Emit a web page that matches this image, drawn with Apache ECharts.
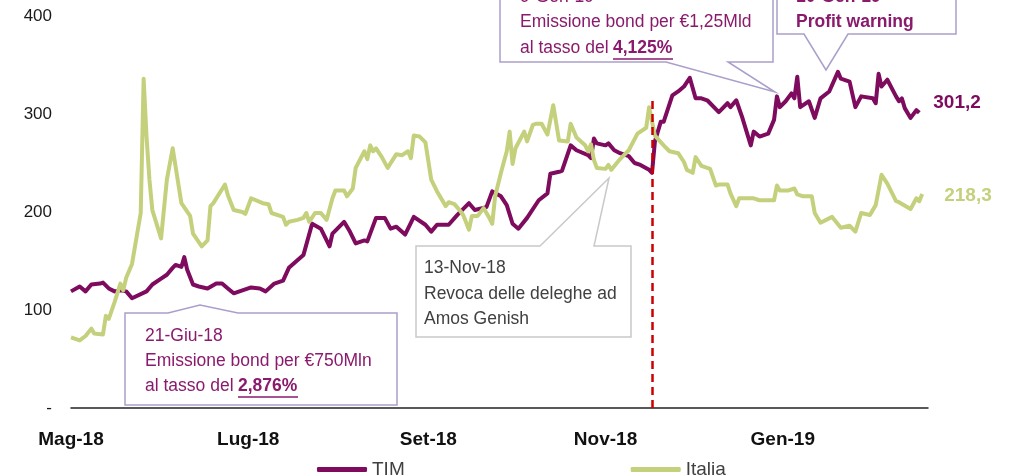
<!DOCTYPE html>
<html>
<head>
<meta charset="utf-8">
<script src="https://cdn.jsdelivr.net/npm/echarts@6/dist/echarts.min.js"></script>
<style>
  html, body { margin: 0; padding: 0; background: #fff; }
  #main { width: 1020px; height: 476px; }
</style>
</head>
<body>
<div id="main"></div>
<script>
// giorni dal 1 maggio 2018 -> etichette asse x
var labelDays = [0, 61, 123, 184, 245];
var monthLabels = ['Mag-18', 'Lug-18', 'Set-18', 'Nov-18', 'Gen-19'];
var yTicks = [0, 100, 200, 300, 400];
var eventDay = 200;   // linea rossa tratteggiata
var eventTop = 316;

// [giorno, valore]
var timData = [[0,119],[3,124],[5,119],[7,126],[10,127],[11,128],[13,122],[15,119],[17,120],[19,119],[21,112],[26,119],[28,126],[31,132],[33,136],[35,143],[36,146],[38,144],[39,154],[40,141],[42,126],[44,124],[47,122],[50,127],[52,127],[54,122],[56,117],[59,120],[62,123],[65,122],[67,119],[70,127],[73,130],[75,143],[80,156],[83,188],[86,183],[88,171],[89,165],[90,178],[94,190],[96,180],[98,168],[101,171],[102,170],[105,194],[108,194],[110,183],[112,185],[115,177],[118,195],[122,187],[124,180],[126,187],[130,187],[133,197],[137,209],[139,202],[143,205],[145,221],[148,216],[150,207],[152,188],[154,183],[157,194],[161,212],[164,219],[165,239],[168,241],[169,242],[172,268],[174,263],[178,258],[179,255],[180,275],[181,270],[184,268],[185,270],[187,263],[189,260],[192,257],[194,250],[196,248],[199,243],[200,240],[201,272],[203,292],[204,292],[207,319],[209,323],[211,328],[213,337],[215,316],[217,316],[219,314],[223,302],[226,311],[227,307],[229,314],[231,297],[234,268],[235,282],[237,277],[240,280],[242,294],[243,318],[244,307],[246,313],[248,321],[249,316],[250,338],[251,307],[254,313],[256,296],[258,316],[261,323],[264,343],[265,336],[268,333],[270,307],[272,318],[276,316],[277,311],[278,341],[279,328],[281,335],[284,318],[285,313],[286,316],[287,306],[289,296],[291,304],[292,301.2]];

var italiaData = [[0,72],[3,69],[5,73.5],[7,81],[8,76],[11,75],[12,94],[13,91],[15,108],[17,127],[18,120],[19,133],[21,147],[24,199],[25,336],[26,277],[27,233],[28,202],[31,173],[33,233],[35,265],[38,209],[41,196],[42,178],[45,165],[47,171],[48,206],[49,209],[53,228],[54,217],[56,202],[59,200],[60,198],[62,214],[66,209],[68,208],[69,199],[73,195],[74,187],[75,190],[78,192],[80,194],[81,199],[82,190],[84,199],[86,199],[88,192],[90,214],[91,222],[94,222],[95,216],[97,224],[98,245],[101,262],[102,254],[103,268],[104,262],[105,265],[107,256],[109,245],[112,259],[114,258],[116,262],[117,255],[118,278],[120,277],[122,271],[124,233],[126,221],[129,206],[130,210],[132,208],[134,201],[135,197],[137,182],[138,196],[140,196],[142,204],[144,194],[145,188],[146,216],[148,240],[150,262],[151,282],[152,249],[153,265],[156,282],[157,272],[159,289],[160,290],[162,290],[164,279],[166,309],[168,273],[171,272],[172,290],[174,276],[177,268],[178,262],[179,269],[180,253],[181,245],[184,244],[185,248],[186,243],[189,254],[192,263],[195,280],[198,286],[199,307],[201,278],[204,268],[206,262],[209,260],[211,251],[212,243],[214,240],[215,256],[217,247],[220,244],[222,227],[223,228],[226,228],[227,219],[229,206],[230,214],[235,214],[237,212],[242,212],[243,227],[244,222],[247,222],[249,224],[250,218],[252,216],[255,216],[256,199],[258,189],[262,195],[265,184],[268,186],[270,180],[272,199],[275,197],[277,207],[279,238],[281,229],[284,211],[285,210],[289,203],[291,214],[292,211],[293,218.3]];

var TIM_COLOR = '#7e0b5d';
var ITA_COLOR = '#c5d07c';
var NOTE_PURPLE = '#8a1a6c';
var NOTE_BORDER = '#aa9ecb';
var FONT = '"Liberation Sans", Arial, sans-serif';

function fmt(v) {
    return v.toFixed(1).replace('.', ',');
}

function box(points, stroke) {
    return {type: 'polygon', z: 100, shape: {points: points},
        style: {fill: '#fff', stroke: stroke, lineWidth: 1.5}};
}
function txt(x, y, s, color, weight) {
    return {type: 'text', z: 101, x: x, y: y,
        style: {text: s, fill: color, font: (weight || 'normal') + ' 17.5px ' + FONT, verticalAlign: 'middle'}};
}
function uline(x1, x2, y, color) {
    return {type: 'line', z: 101, shape: {x1: x1, y1: y, x2: x2, y2: y},
        style: {stroke: color, lineWidth: 1.5}};
}

var chart = echarts.init(document.getElementById('main'));

var option = {
    animation: false,
    backgroundColor: '#fff',
    grid: {left: 71, right: 92, top: 16, bottom: 68},
    legend: {
        data: ['TIM', 'Italia'],
        left: 312,
        top: 455,
        icon: 'roundRect',
        itemWidth: 50,
        itemHeight: 5,
        itemGap: 226,
        textStyle: {fontSize: 19, color: '#404040', fontFamily: FONT}
    },
    xAxis: {
        type: 'value',
        min: 0,
        max: 295,
        splitLine: {show: false},
        axisTick: {show: false},
        axisLine: {show: true, onZero: false, lineStyle: {color: '#222', width: 1.5}},
        axisLabel: {
            customValues: labelDays,
            margin: 22,
            fontSize: 19,
            fontWeight: 'bold',
            color: '#111',
            fontFamily: FONT,
            formatter: function (v) {
                var i = labelDays.indexOf(v);
                return i >= 0 ? monthLabels[i] : '';
            }
        }
    },
    yAxis: {
        type: 'value',
        min: 0,
        max: 400,
        interval: 100,
        splitLine: {show: false},
        axisLine: {show: false},
        axisTick: {show: false},
        axisLabel: {
            margin: 19,
            fontSize: 17,
            color: '#1a1a1a',
            fontFamily: FONT,
            formatter: function (v) { return v === 0 ? '-' : String(v); }
        }
    },
    series: [
        {
            name: 'TIM',
            type: 'line',
            data: timData,
            showSymbol: false,
            color: TIM_COLOR,
            lineStyle: {width: 4, color: TIM_COLOR, join: 'round'},
            endLabel: {
                show: true,
                distance: 0,
                offset: [14, -10],
                color: TIM_COLOR,
                fontSize: 19,
                fontWeight: 'bold',
                fontFamily: FONT,
                formatter: function (p) { return fmt(p.value[1]); }
            },
            markLine: {
                silent: true,
                symbol: ['none', 'none'],
                label: {show: false},
                lineStyle: {color: '#cc0000', type: [8, 5], width: 2.5},
                data: [[{coord: [eventDay, 0]}, {coord: [eventDay, eventTop]}]]
            }
        },
        {
            name: 'Italia',
            type: 'line',
            data: italiaData,
            showSymbol: false,
            color: ITA_COLOR,
            lineStyle: {width: 4, color: ITA_COLOR, join: 'round'},
            endLabel: {
                show: true,
                distance: 0,
                offset: [22, 2],
                color: ITA_COLOR,
                fontSize: 19,
                fontWeight: 'bold',
                fontFamily: FONT,
                formatter: function (p) { return fmt(p.value[1]); }
            }
        }
    ],
    graphic: [
        // 21-Giu-18
        box([[125,313],[168,313],[200,305],[238,313],[397,313],[397,405],[125,405]], NOTE_BORDER),
        txt(145, 336, '21-Giu-18', NOTE_PURPLE),
        txt(145, 361, 'Emissione bond per €750Mln', NOTE_PURPLE),
        txt(145, 386, 'al tasso del', NOTE_PURPLE),
        txt(238, 386, '2,876%', NOTE_PURPLE, 'bold'),
        uline(238, 298, 397, NOTE_PURPLE),
        // 13-Nov-18
        box([[416,246],[540,246],[609,178],[594,246],[631,246],[631,337],[416,337]], '#c9c9c9'),
        txt(424, 268, '13-Nov-18', '#404040'),
        txt(424, 294, 'Revoca delle deleghe ad', '#404040'),
        txt(424, 319, 'Amos Genish', '#404040'),
        // 9-Gen-19
        box([[500,-5],[773,-5],[773,62],[728,62],[775,92],[666,62],[500,62]], NOTE_BORDER),
        txt(520, -3, '9-Gen-19', NOTE_PURPLE),
        txt(520, 22, 'Emissione bond per €1,25Mld', NOTE_PURPLE),
        txt(520, 48, 'al tasso del', NOTE_PURPLE),
        txt(613, 48, '4,125%', NOTE_PURPLE, 'bold'),
        uline(613, 673, 59, NOTE_PURPLE),
        // 10-Gen-19
        box([[777,-5],[956,-5],[956,34],[848,34],[826,70],[804,34],[777,34]], NOTE_BORDER),
        txt(796, -3, '10-Gen-19', NOTE_PURPLE, 'bold'),
        txt(796, 22, 'Profit warning', NOTE_PURPLE, 'bold')
    ]
};

chart.setOption(option);
</script>
</body>
</html>
